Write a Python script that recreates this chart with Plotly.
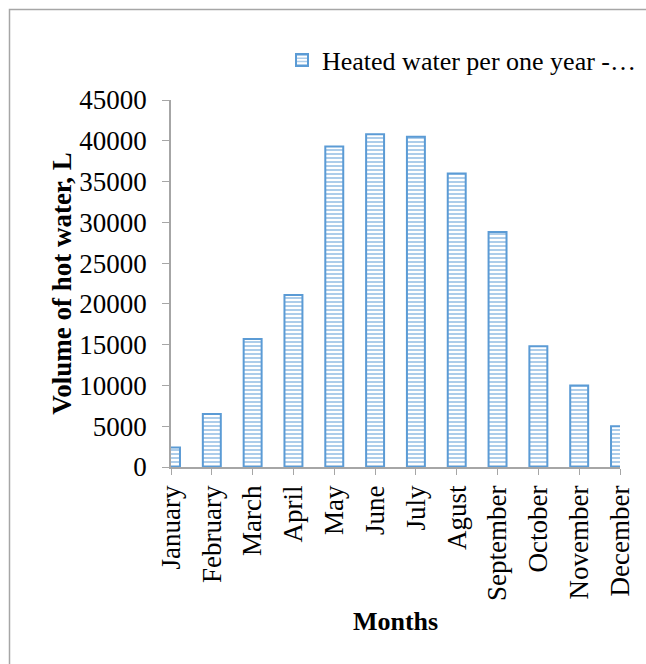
import plotly.graph_objects as go

# Monthly volume of heated water
months = ["January", "February", "March", "April", "May", "June",
          "July", "Agust", "September", "October", "November", "December"]
volume_l = [2400, 6500, 15700, 21100, 39300, 40800,
            40500, 36000, 28800, 14800, 10000, 5000]
series_name = "Heated water per one year -…"
y_ticks = [0, 5000, 10000, 15000, 20000, 25000, 30000, 35000, 40000, 45000]

W, H = 646, 664
ML, MR, MT, MB = 171, 26, 100, 197
plot_w = W - ML - MR
plot_h = H - MT - MB


def px_x(px):
    return (px - ML) / plot_w


def px_y(py):
    return (H - MB - py) / plot_h


FONT = "Liberation Serif, Times New Roman, serif"
BLUE = "#5B9BD5"
GREY = "#A6A6A6"

fig = go.Figure()
fig.add_trace(go.Bar(
    x=months,
    y=volume_l,
    name=series_name,
    width=0.44,
    showlegend=True,
    marker=dict(
        color="white",
        line=dict(color=BLUE, width=2),
        pattern=dict(shape="-", fgcolor=BLUE, bgcolor="white",
                     size=4, solidity=0.5, fillmode="overlay"),
    ),
))

fig.update_layout(
    width=W, height=H,
    margin=dict(l=ML, r=MR, t=MT, b=MB, autoexpand=False),
    paper_bgcolor="white",
    plot_bgcolor="white",
    font=dict(family=FONT, size=27, color="black"),
    showlegend=True,
    legend=dict(
        x=px_x(282), y=px_y(60), xanchor="left", yanchor="middle",
        font=dict(family=FONT, size=26, color="black"),
        bgcolor="rgba(0,0,0,0)", itemwidth=30,
    ),
    xaxis=dict(
        type="category",
        range=[0, 11],
        tickangle=-90,
        ticks="outside", ticklen=6, tickcolor=GREY,
        showline=True, linecolor=GREY, linewidth=1.5,
        showgrid=False, zeroline=False,
        tickfont=dict(family=FONT, size=27),
        title=dict(text="<b>Months</b>", font=dict(family=FONT, size=26),
                   standoff=12),
    ),
    yaxis=dict(
        range=[0, 45000],
        tickvals=y_ticks,
        ticktext=[str(v) for v in y_ticks],
        ticks="outside", ticklen=7, tickcolor=GREY,
        ticklabelstandoff=10,
        showline=True, linecolor=GREY, linewidth=1.5,
        showgrid=False, zeroline=False,
        tickfont=dict(family=FONT, size=27),
        title=dict(text="<b>Volume of hot water, L</b>",
                   font=dict(family=FONT, size=27), standoff=0),
    ),
    shapes=[dict(
        type="rect", xref="paper", yref="paper",
        x0=px_x(9.5), x1=px_x(700), y0=px_y(720), y1=px_y(9.5),
        line=dict(color=GREY, width=1.5), fillcolor="rgba(0,0,0,0)",
        layer="below",
    )],
)

fig.write_html("out.html")
